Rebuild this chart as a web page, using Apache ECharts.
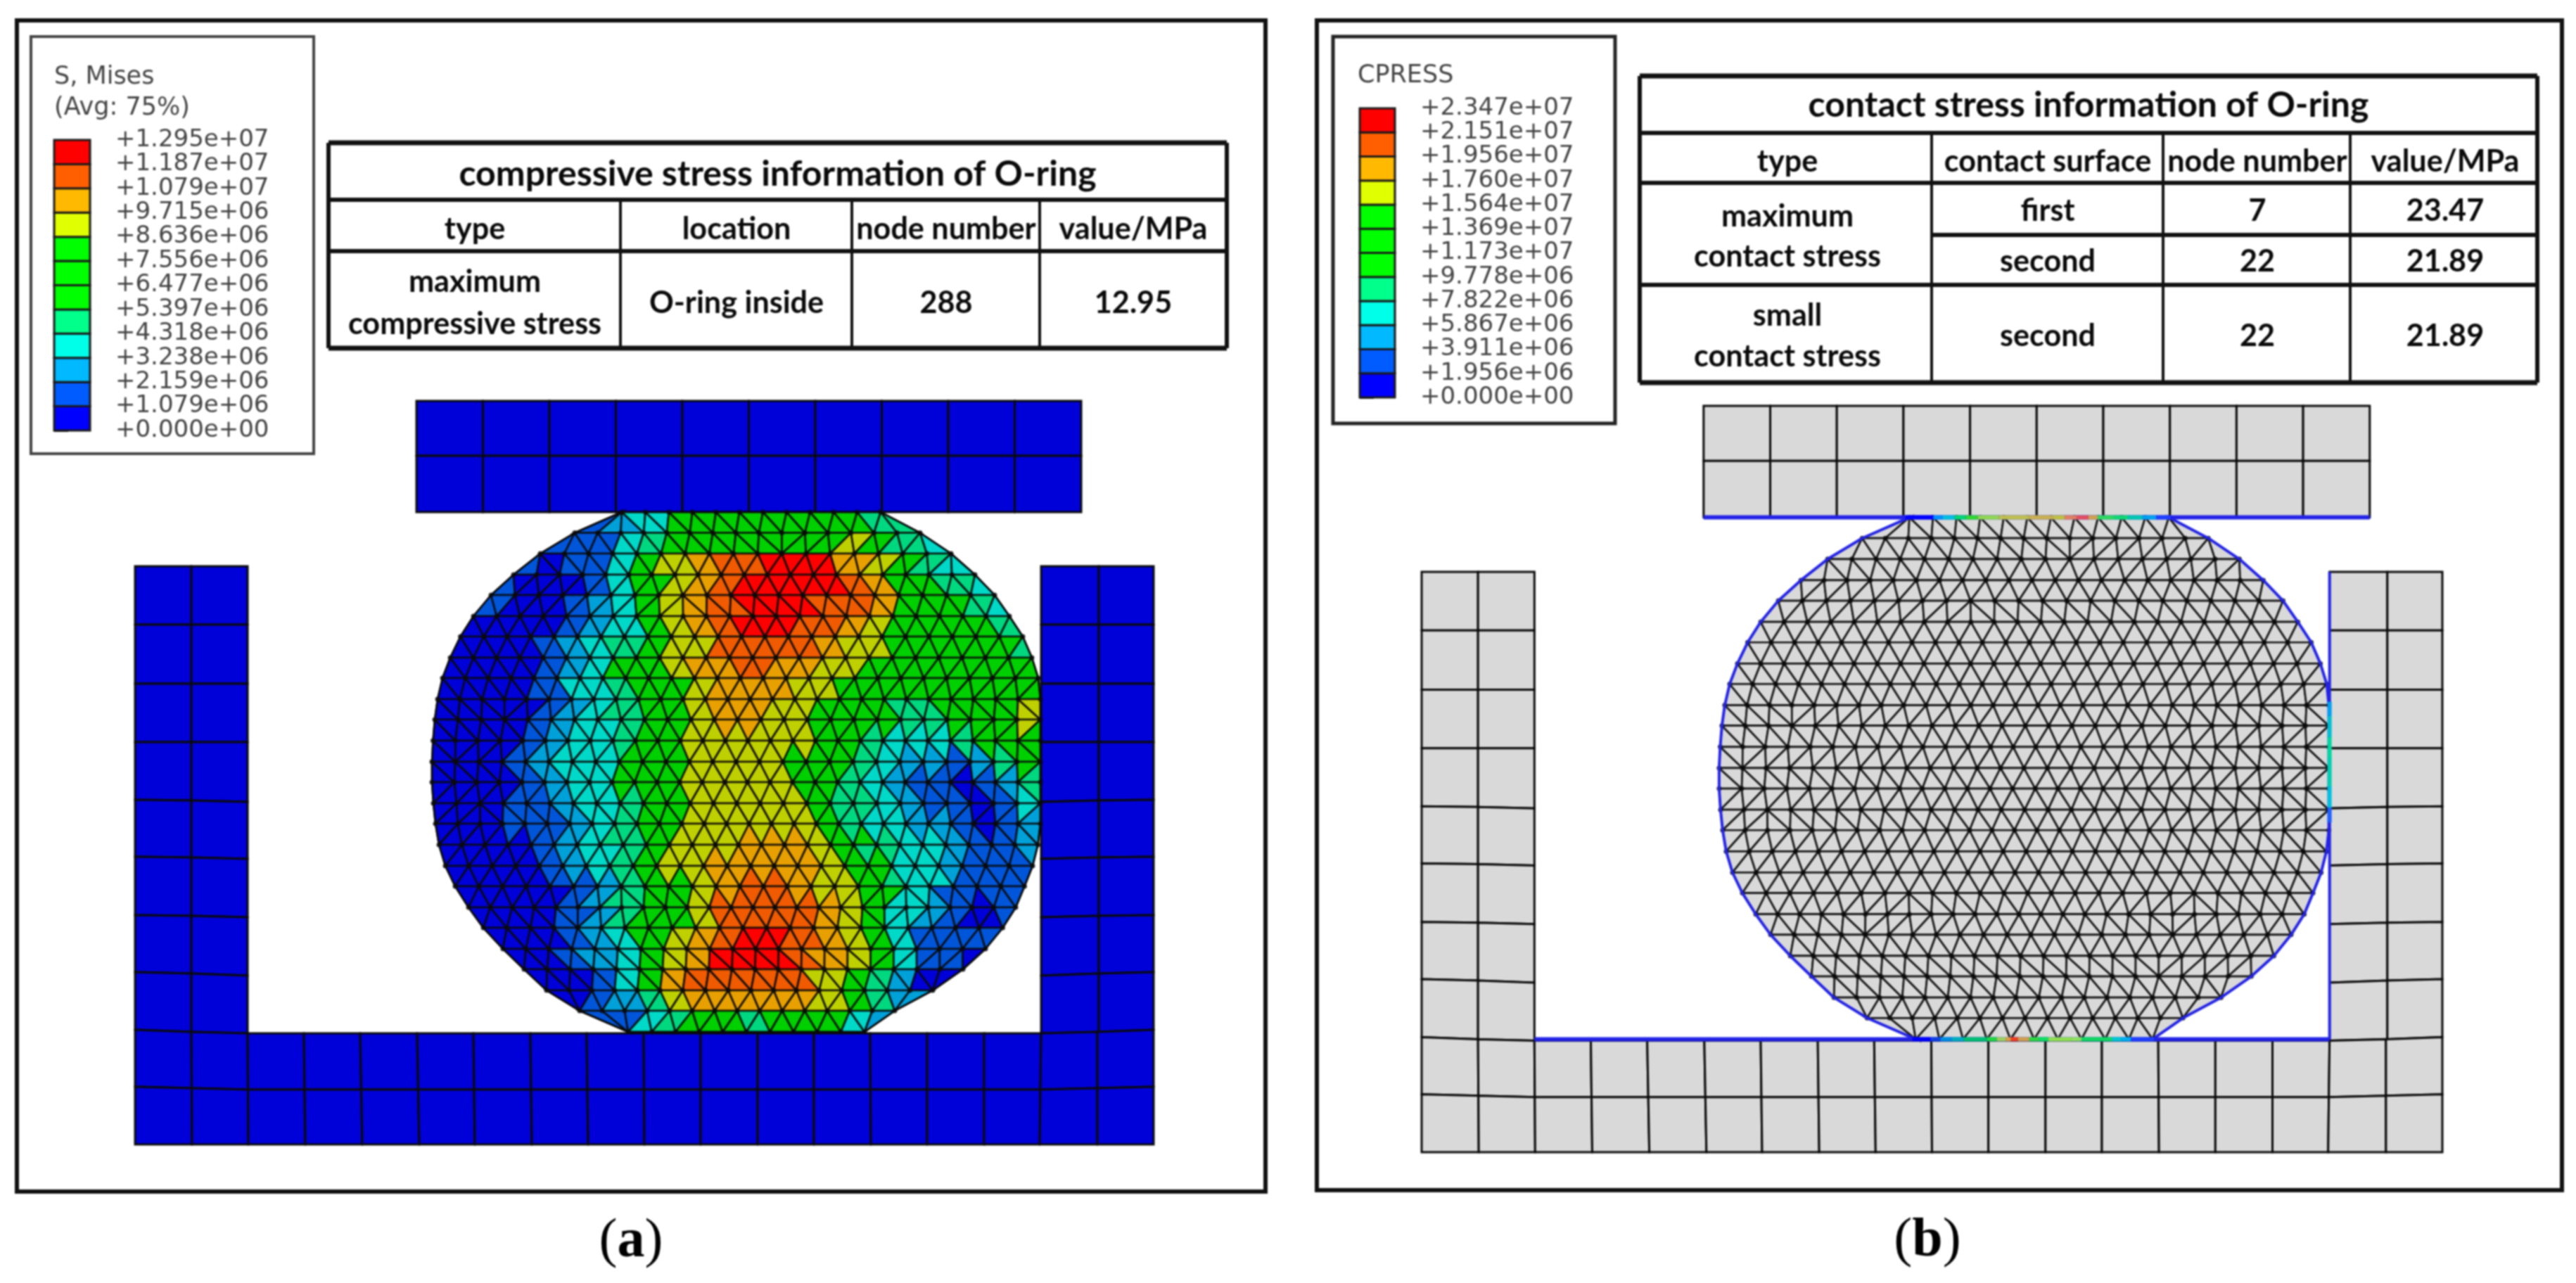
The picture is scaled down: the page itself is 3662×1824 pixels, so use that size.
<!DOCTYPE html>
<html><head><meta charset="utf-8"><title>O-ring stress</title>
<style>html,body{margin:0;padding:0;background:#fff}#c{width:3662px;height:1824px;filter:blur(0.8px)}</style>
<script src="https://cdn.jsdelivr.net/npm/echarts@6/dist/echarts.min.js"></script></head>
<body><div id="c"></div>
<script>
// ---------- values ----------
const misesLabels = ['+0.000e+00','+1.079e+06','+2.159e+06','+3.238e+06','+4.318e+06','+5.397e+06','+6.477e+06','+7.556e+06','+8.636e+06','+9.715e+06','+1.079e+07','+1.187e+07','+1.295e+07'];
const cpressLabels = ['+0.000e+00','+1.956e+06','+3.911e+06','+5.867e+06','+7.822e+06','+9.778e+06','+1.173e+07','+1.369e+07','+1.564e+07','+1.760e+07','+1.956e+07','+2.151e+07','+2.347e+07'];
const legendBands = [0,1,2,3,4,5,6,7,8,9,10,11];
const legendTitleA = ['S, Mises','(Avg: 75%)'];
const legendTitleB = ['CPRESS'];
const tableATitle = 'compressive stress information of O-ring';
const tableAHeader = ['type','location','node number','value/MPa'];
const tableARow = ['maximum','compressive stress','O-ring inside','288','12.95'];
const tableBTitle = 'contact stress information of O-ring';
const tableBHeader = ['type','contact surface','node number','value/MPa'];
const tableBRows = [['maximum','contact stress'],['first','7','23.47'],['second','22','21.89'],['small','contact stress'],['second','22','21.89']];
// O-ring mesh rows in model units: row y, left edge, right edge, element count
const ringRows = [[158,692,1060,11],[187.5,625,1116,15],[217,576,1160,17],[247,538,1194,20],[276,506,1222,21],[306,481,1243,23],[335,462.5,1262,24],[365,448,1275,25],[394,437,1284,26],[424,430,1287,27],[453,426,1287,26],[483,423.5,1287,27],[513,422,1287,26],[542,422,1287,27],[572,424,1287,26],[601,427,1287,27],[631,432,1283.5,26],[661,441,1276,25],[690,455,1264.5,24],[720,474,1252,25],[749,495,1233.5,22],[779,523,1209,21],[808,553,1177,19],[838,585,1134,17],[867,632,1080,14],[897,701,1037,10]];
// Mises band index (0-b) on a coarse reading grid over the O-ring
const misesField = [
'......123555555554......',
'.....113455555558543....',
'...10113589aabbb98543...',
'..100013589abbbba95543..',
'..100123589abbbaa955543.',
'.0000123589abbaa98555543',
'10001234588aaaa988555554',
'000012355899a99885555555',
'000013345589998855555555',
'000012345589988555445558',
'000123345588888554334555',
'000123355588885543221245',
'000123355588885543210124',
'000112345588888543211013',
'000112345588888543321012',
'000012345888999854332112',
'000012345889999855332111',
'.00001245589aa988543111.',
'.0000124558aaaa98532101.',
'..000123589abba9853111..',
'...00123589bbba9853110..',
'....001359aaaaa854200...',
'.....012489999985420....',
'.......13455455532......'
];
const fieldOrigin = [424,158], fieldCell = [36.16,30.6];
const plateX = [400,494.5,589,683.5,778,872.5,967,1061.5,1156,1250.5,1345];
const plateY = [0,78,158];
const wallY = [[235,235,235],[318,318,318],[402,402,402],[485,485,485],[567,568,570],[648,649,651],[731,732,734],[812,814,817],[894,897,899]];
const baseTopX = [0,80,160,240,320,401,481,562,642,723,804,885,965,1045,1126,1207,1288,1368,1448];
const baseBotX = [0,81,161,242,323,404,483,564,644,724,804,885,965,1046,1126,1207,1286,1368,1448];
const baseMidY = [975,977,979];
const rightWallX = [1288,1370,1448], leftWallX = [0,80,160];
const contactTop = [[686,'#0000ff'],[726,'#0090ff'],[739,'#00c0e0'],[756,'#00d870'],[772,'#30d830'],[789,'#90d850'],[819,'#c0c050'],[862,'#c8b050'],[896,'#c0c040'],[912,'#e08060'],[929,'#e05060'],[946,'#d0a050'],[959,'#30d860'],[982,'#10d870'],[1002,'#00c8b0'],[1022,'#00a0f0'],[1042,'#2040ff'],[1062,'#0000ff']];
const contactBot = [[696,'#0000ff'],[722,'#1040e0'],[736,'#0090e0'],[752,'#00b0c0'],[769,'#00c070'],[802,'#20d840'],[816,'#a0d060'],[829,'#e0a040'],[836,'#f04020'],[846,'#d0a050'],[862,'#30d840'],[876,'#10e060'],[889,'#90e050'],[922,'#90e060'],[936,'#10d860'],[962,'#10d860'],[979,'#00c8d0'],[992,'#00b0f0'],[1006,'#2040ff'],[1039,'#0000e0']];
const contactSide = [[419,'#00a0f0'],[439,'#00c0d0'],[469,'#00d8a0'],[499,'#00d0b0'],[539,'#00c0e0'],[569,'#2060ff'],[590,'#2020e0']];

// ---------- style ----------
const legendColors = ['#0000ff','#005cff','#00b9ff','#00ffe8','#00ff8b','#00ff00','#00ff00','#00ff00','#e0ff00','#ffb900','#ff5f00','#ff0000'];
const fieldColors = ['#0000d9','#0055d9','#00a0d9','#00d8c8','#00d880','#00cf00','#00cf00','#00cf00','#bfd000','#e8a000','#f05a00','#ff0000'];
const PARTA = '#0000d9', GREY = '#d9d9d9', EDGE = '#0a0a0a', CONTACT = '#2323e6';

// ---------- mesh built from the rows ----------
const ringNodes = ringRows.map(r => { const a = []; for (let i = 0; i <= r[3]; i++) a.push([r[1] + (r[2]-r[1])*i/r[3], r[0]]); return a; });
const allNodes = ringNodes.flat();
const tris = [];
for (let k = 0; k + 1 < ringNodes.length; k++) {
  const A = ringNodes[k], B = ringNodes[k+1]; let i = 0, j = 0;
  while (i < A.length-1 || j < B.length-1) {
    const advA = j >= B.length-1 || (i < A.length-1 && Math.abs(A[i+1][0]-B[j][0]) <= Math.abs(A[i][0]-B[j+1][0]));
    if (advA) { tris.push([A[i],A[i+1],B[j]]); i++; } else { tris.push([A[i],B[j+1],B[j]]); j++; }
  }
}
function bandAt(x, y) {
  const rr = Math.max(0, Math.min(misesField.length-1, Math.floor((y-fieldOrigin[1])/fieldCell[1])));
  const row = misesField[rr];
  const c = Math.max(0, Math.min(23, Math.floor((x-fieldOrigin[0])/fieldCell[0])));
  for (let d = 0; d < 24; d++) {
    for (const s of [-1,1]) { const ch = row[c+s*d]; if (ch && ch !== '.') return parseInt(ch,16); }
  }
  return 0;
}
const triData = tris.map(t => { const cx=(t[0][0]+t[1][0]+t[2][0])/3, cy=(t[0][1]+t[1][1]+t[2][1])/3;
  return [t[0][0],t[0][1],t[1][0],t[1][1],t[2][0],t[2][1],bandAt(cx,cy)]; });
const quads = [];
for (let i=0;i+1<plateX.length;i++) for (let j=0;j+1<plateY.length;j++) quads.push([plateX[i],plateY[j],plateX[i+1],plateY[j],plateX[i+1],plateY[j+1],plateX[i],plateY[j+1]]);
for (let r=0;r+1<wallY.length;r++) for (let c=0;c<2;c++) {
  quads.push([leftWallX[c],wallY[r][c],leftWallX[c+1],wallY[r][c+1],leftWallX[c+1],wallY[r+1][c+1],leftWallX[c],wallY[r+1][c]]);
  quads.push([rightWallX[c],wallY[r][2-c],rightWallX[c+1],wallY[r][1-c],rightWallX[c+1],wallY[r+1][1-c],rightWallX[c],wallY[r+1][2-c]]);
}
function baseTopY(i){ return i<=2 ? wallY[8][i] : i>=16 ? wallY[8][18-i] : 899; }
function baseMY(i){ return i<=2 ? baseMidY[i] : i>=16 ? baseMidY[18-i] : 979; }
for (let i=0;i+1<baseTopX.length;i++) {
  const mx0=(baseTopX[i]+baseBotX[i])/2, mx1=(baseTopX[i+1]+baseBotX[i+1])/2;
  quads.push([baseTopX[i],baseTopY(i),baseTopX[i+1],baseTopY(i+1),mx1,baseMY(i+1),mx0,baseMY(i)]);
  quads.push([mx0,baseMY(i),mx1,baseMY(i+1),baseBotX[i+1],1057,baseBotX[i],1057]);
}
const outline = ringRows.map(r=>[r[1],r[0]]).concat(ringRows.slice().reverse().map(r=>[r[2],r[0]]));

// ---------- series helpers ----------
function polyItem(n, fill, stroke, lw){
  return function(p, api){
    const pts=[]; for(let i=0;i<n;i++) pts.push(api.coord([api.value(2*i),api.value(2*i+1)]));
    return {type:'polygon',shape:{points:pts},style:{fill:fill(api),stroke:stroke,lineWidth:lw}};
  };
}
function meshSeries(gi, quadFill, triFill, lw){
  return [
    {type:'custom',xAxisIndex:gi,yAxisIndex:gi,coordinateSystem:'cartesian2d',clip:false,progressive:0,animation:false,silent:true,
     encode:{x:0,y:1},data:quads,renderItem:polyItem(4,()=>quadFill,EDGE,3),z:2},
    {type:'custom',xAxisIndex:gi,yAxisIndex:gi,coordinateSystem:'cartesian2d',clip:false,progressive:0,animation:false,silent:true,
     encode:{x:0,y:1},data:triData,renderItem:polyItem(3,triFill,'rgba(10,10,10,0.9)',lw),z:3},
    {type:'scatter',xAxisIndex:gi,yAxisIndex:gi,data:allNodes,symbolSize:7,itemStyle:{color:'#0a0a0a'},silent:true,animation:false,z:4,progressive:0,large:false}
  ];
}
function outlineSeries(gi, color, lw){
  return {type:'line',xAxisIndex:gi,yAxisIndex:gi,data:outline.concat([outline[0]]),showSymbol:false,lineStyle:{color:color,width:lw},silent:true,animation:false,z:5};
}
function stripSeries(gi, data, vertical, fixed){
  return {type:'custom',xAxisIndex:gi,yAxisIndex:gi,coordinateSystem:'cartesian2d',clip:false,progressive:0,animation:false,silent:true,z:7,
    data:data.slice(0,-1).map((d,i)=>[d[0],data[i+1][0],i]),encode:{x:0},
    renderItem(p,api){
      const a=api.value(0), b=api.value(1), col=data[api.value(2)][1];
      const p0=vertical?api.coord([fixed,a]):api.coord([a,fixed]), p1=vertical?api.coord([fixed,b]):api.coord([b,fixed]);
      return {type:'line',shape:{x1:p0[0],y1:p0[1],x2:p1[0],y2:p1[1]},style:{stroke:col,lineWidth:6}};
    }};
}
function contactLine(gi, pts, lw){
  return {type:'line',xAxisIndex:gi,yAxisIndex:gi,data:pts,showSymbol:false,lineStyle:{color:CONTACT,width:lw},silent:true,animation:false,z:6};
}
function legendSeries(gi){
  return {type:'custom',xAxisIndex:gi,yAxisIndex:gi,coordinateSystem:'cartesian2d',clip:false,progressive:0,animation:false,silent:true,
    data:legendBands.map(b=>[0,b]),encode:{x:0,y:1},
    renderItem(p,api){
      const b=api.value(1), a0=api.coord([0,b]), a1=api.coord([1,b+1]);
      return {type:'rect',shape:{x:a0[0],y:a1[1],width:a1[0]-a0[0],height:a0[1]-a1[1]},style:{fill:legendColors[b],stroke:'#1a1a1a',lineWidth:3}};
    }};
}
function legendY(gi, labels){
  return {gridIndex:gi,type:'value',min:0,max:12,interval:1,position:'right',
    axisLine:{show:false},splitLine:{show:false},
    axisTick:{show:true,length:20,lineStyle:{color:'#1a1a1a',width:3}},
    axisLabel:{show:true,margin:36,color:'#444',fontFamily:'DejaVu Sans',fontSize:34,lineHeight:26,formatter:v=>labels[v]}};
}
// ---------- graphics: frames, legend boxes, tables, captions ----------
const g = [];
function rect(x,y,w,h,stroke,lw,fill){ g.push({type:'rect',z:0,shape:{x,y,width:w,height:h},style:{fill:fill||'transparent',stroke,lineWidth:lw},silent:true}); }
function ln(x1,y1,x2,y2,lw){ g.push({type:'line',z:1,shape:{x1,y1,x2,y2},style:{stroke:'#111',lineWidth:lw},silent:true}); }
function txt(x,y,s,size,sx){ g.push({type:'text',z:1,x,y,scaleX:sx,silent:true,style:{text:s,x:0,y:0,fontFamily:'Lato',fontWeight:'bold',fontSize:size,fill:'#0a0a0a',textAlign:'center',textVerticalAlign:'middle'}}); }
function plain(x,y,s){ g.push({type:'text',z:1,silent:true,style:{text:s,x,y,fontFamily:'DejaVu Sans',fontSize:35,fill:'#444',textAlign:'left',textVerticalAlign:'middle'}}); }
function caption(x,y,l){ g.push({type:'text',z:1,silent:true,style:{x,y,textAlign:'center',textVerticalAlign:'middle',text:'{p|(}{b|'+l+'}{p|)}',rich:{p:{fontFamily:'Liberation Serif',fontSize:78,fill:'#000'},b:{fontFamily:'Liberation Serif',fontWeight:'bold',fontSize:78,fill:'#000'}}}}); }

rect(24,29,1775,1665,'#111',6);
rect(1872,29,1770,1663,'#111',6);
rect(44,52,402,593,'#444',4,'#fff');
rect(1895,52,401,550,'#222',5,'#fff');
plain(77,110,legendTitleA[0]); plain(77,154,legendTitleA[1]); plain(1930,108,legendTitleB[0]);
// table a
const TAh=[203,284,357,495], TAv=[467,882,1211,1478,1744];
TAh.forEach((y,i)=>ln(467,y,1744,y,i==0||i==3?7:6));
[0,4].forEach(i=>ln(TAv[i],203,TAv[i],495,6));
[1,2,3].forEach(i=>ln(TAv[i],284,TAv[i],495,4));
const TS=50, BS=44, SX=0.98;
txt((467+1744)/2,248,tableATitle,TS,1.0);
const cA=[675,1047,1345,1611];
tableAHeader.forEach((s,i)=>txt(cA[i],326,s,BS,SX));
txt(cA[0],401,tableARow[0],BS,SX); txt(cA[0],461,tableARow[1],BS,SX);
txt(cA[1],431,tableARow[2],BS,SX); txt(cA[2],431,tableARow[3],BS,SX); txt(cA[3],431,tableARow[4],BS,SX);
// table b
const TBv=[2331,2746,3075,3341,3607];
[108,189,260,405,544].forEach((y,i)=>ln(2331,y,3607,y,i==0||i==4?7:6));
ln(2746,334,3607,334,6);
[0,4].forEach(i=>ln(TBv[i],108,TBv[i],544,6));
[1,2,3].forEach(i=>ln(TBv[i],189,TBv[i],544,4));
txt(2969,150,tableBTitle,TS,1.0);
const cB=[2541,2911,3209,3476];
tableBHeader.forEach((s,i)=>txt(cB[i],230,s,BS,SX));
txt(cB[0],308,tableBRows[0][0],BS,SX); txt(cB[0],365,tableBRows[0][1],BS,SX);
tableBRows[1].forEach((s,i)=>txt(cB[i+1],300,s,BS,SX));
tableBRows[2].forEach((s,i)=>txt(cB[i+1],372,s,BS,SX));
txt(cB[0],449,tableBRows[3][0],BS,SX); txt(cB[0],507,tableBRows[3][1],BS,SX);
tableBRows[4].forEach((s,i)=>txt(cB[i+1],478,s,BS,SX));
caption(897,1766,'a'); caption(2740,1765,'b');

const hid = {show:false};
const chart = echarts.init(document.getElementById('c'),null,{renderer:'canvas',width:3662,height:1824,devicePixelRatio:1});
chart.setOption({
  animation:false, backgroundColor:'#fff', tooltip:{show:false},
  graphic:{elements:g},
  grid:[
    {left:192,top:570,width:1448,height:1057},
    {left:2021,top:577,width:1451,height:1061},
    {left:77,top:199,width:51,height:413},
    {left:1933,top:154,width:50,height:411}
  ],
  xAxis:[
    {gridIndex:0,type:'value',min:0,max:1448,...hid},
    {gridIndex:1,type:'value',min:0,max:1448,...hid},
    {gridIndex:2,type:'value',min:0,max:1,...hid},
    {gridIndex:3,type:'value',min:0,max:1,...hid}
  ],
  yAxis:[
    {gridIndex:0,type:'value',min:0,max:1057,inverse:true,...hid},
    {gridIndex:1,type:'value',min:0,max:1057,inverse:true,...hid},
    legendY(2,misesLabels), legendY(3,cpressLabels)
  ],
  series:[
    ...meshSeries(0,PARTA,api=>fieldColors[api.value(6)],2.7),
    outlineSeries(0,'#0a0a0a',2.5),
    ...meshSeries(1,GREY,()=>GREY,2.7),
    outlineSeries(1,CONTACT,4),
    contactLine(1,[[400,158],[1345,158]],6),
    contactLine(1,[[160,897],[1288,897]],6),
    contactLine(1,[[1288,235],[1288,897]],4),
    stripSeries(1,contactTop,false,158),
    stripSeries(1,contactBot,false,897),
    stripSeries(1,contactSide,true,1288),
    legendSeries(2), legendSeries(3)
  ]
});
</script></body></html>
